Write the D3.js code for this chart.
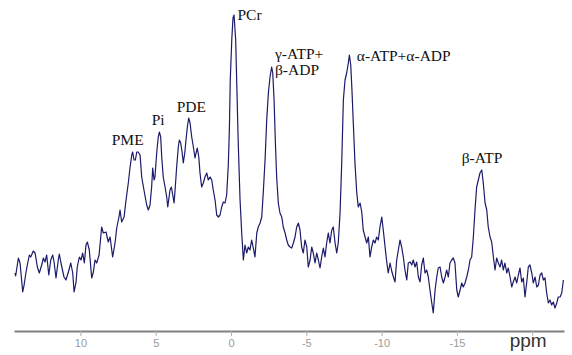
<!DOCTYPE html>
<html><head><meta charset="utf-8">
<script src="https://cdn.jsdelivr.net/npm/d3@7"></script>
<style>html,body{margin:0;padding:0;background:#fff;}svg{display:block;}</style>
</head><body>
<svg id="chart" width="572" height="355"></svg>
<script>
// chemical shift (ppm) of each spectrum sample
const ppm = [14.34,14.30,14.12,14.01,13.83,13.74,13.61,13.50,13.39,13.30,13.13,13.01,12.86,12.73,12.57,12.46,12.35,12.24,12.10,11.97,11.84,11.75,11.62,11.47,11.40,11.29,11.09,10.96,10.80,10.64,10.51,10.42,10.29,10.21,10.07,9.96,9.85,9.74,9.63,9.54,9.41,9.25,9.14,9.03,8.92,8.76,
8.59,8.48,8.30,8.15,8.03,7.86,7.70,7.59,7.44,7.37,7.26,7.10,6.97,6.82,6.71,6.59,6.53,6.44,6.35,6.26,6.16,6.04,5.93,5.78,5.60,5.49,5.38,5.27,5.20,5.11,5.05,4.93,4.83,4.76,4.67,4.60,4.50,4.38,4.27,4.20,4.14,4.05,3.96,3.87,3.78,3.70,3.61,3.50,3.43,3.34,3.25,3.17,3.07,2.99,2.90,2.81,2.72,2.61,2.50,2.39,2.32,2.24,2.14,2.06,1.95,1.84,1.73,1.61,1.51,1.39,1.28,1.18,1.06,0.95,0.84,0.73,0.62,0.51,0.40,0.29,0.18,0.11,0.05,-0.05,-0.13,-0.20,-0.31,-0.38,-0.48,-0.60,-0.71,-0.82,-0.93,-1.04,-1.15,-1.26,-1.37,-1.48,-1.59,-1.71,-1.81,-1.93,-2.04,-2.14,-2.26,-2.37,-2.48,-2.59,-2.70,-2.77,-2.86,-2.94,-3.03,-3.14,-3.25,-3.37,-3.47,-3.59,-3.70,-3.80,-3.92,-4.03,-4.14,-4.25,-4.36,-4.47,-4.58,-4.69,-4.80,-4.91,-5.03,-5.13,-5.25,-5.36,-5.46,-5.58,-5.69,-5.80,-5.91,-6.02,-6.13,-6.24,-6.35,-6.46,-6.57,-6.69,-6.79,-6.91,-7.02,-7.12,-7.24,-7.35,-7.46,-7.57,-7.68,-7.79,-7.86,-7.95,-8.03,-8.12,-8.23,-8.35,-8.45,-8.57,-8.68,-8.78,-8.90,-9.01,-9.12,-9.23,-9.34,-9.45,-9.56,-9.67,-9.78,-9.89,-10.01,-10.11,-10.23,-10.34,-10.44,-10.56,-10.67,-10.78,-10.89,-11.00,-11.11,-11.22,-11.33,-11.44,-11.55,-11.67,-11.77,-11.89,-12.00,-12.10,-12.22,-12.33,-12.44,-12.55,-12.66,-12.77,-12.88,-12.99,-13.10,-13.21,-13.33,-13.43,-13.55,-13.66,-13.76,-13.88,-13.99,-14.10,-14.21,-14.32,-14.43,-14.54,-14.65,-14.76,-14.87,-14.99,-15.09,-15.21,-15.32,-15.42,-15.54,-15.65,-15.76,-15.87,-15.98,-16.09,-16.20,-16.31,-16.42,-16.53,-16.65,-16.75,-16.87,-16.98,-17.08,-17.20,-17.31,-17.42,-17.53,-17.64,-17.75,-17.86,-17.97,-18.08,-18.19,-18.31,-18.41,-18.53,-18.64,-18.74,-18.86,-18.97,-19.08,-19.19,-19.30,-19.41,-19.52,-19.63,-19.74,-19.85,-19.97,-20.07,-20.19,-20.30,-20.41,-20.52,-20.63,-20.74,-20.85,-20.96,-21.07,-21.18,-21.29,-21.40,-21.51,-21.63,-21.73,-21.85,-21.96,-22.07];

// signal intensity (a.u.) of each sample
const signal = [58,55,73,68,39,46,59,68,76,74,80,78,64,58,66,73,69,76,56,71,76,69,53,71,77,68,54,51,59,68,58,39,49,64,74,71,78,68,86,89,81,53,59,71,68,76,
104,98,99,89,94,74,88,103,114,121,109,114,131,148,163,176,179,171,171,179,179,176,154,141,126,121,126,144,163,151,154,179,194,199,194,174,154,144,134,124,131,141,144,136,128,144,164,184,191,188,179,168,178,191,204,213,208,194,184,173,178,183,174,158,144,148,154,158,151,154,151,141,131,116,114,116,124,129,128,136,166,201,251,291,313,316,291,248,188,131,98,71,86,78,84,81,91,83,74,98,104,108,114,138,171,211,238,254,264,258,231,191,154,128,118,114,104,98,91,86,84,83,88,94,104,108,101,84,78,91,84,64,71,84,78,68,78,71,63,74,83,74,88,98,88,101,104,88,78,88,118,168,231,251,258,268,276,266,241,208,168,138,124,128,119,101,94,88,94,74,84,91,88,94,91,104,114,101,84,69,58,68,60,54,49,71,81,91,84,74,61,51,68,69,66,71,64,69,54,49,66,73,58,61,54,41,28,18,41,54,63,64,54,48,54,61,54,68,71,73,68,41,34,41,48,44,48,54,61,71,74,94,121,144,151,158,161,148,128,121,104,94,89,74,61,73,68,64,71,61,68,58,63,54,44,49,54,48,56,63,49,53,34,48,64,66,58,48,54,44,46,56,58,51,53,38,28,31,26,29,23,28,34,34,38,51];

// axis ticks (ppm) and their labels
const tickValues = [10,5,0,-5,-10,-15,-20];
const tickLabels = ["10","5","0","-5","-10","-15",""];
const axisTitle = "ppm";

// peak assignments: label lines anchored at (ppm, signal)
const peakNames = [["PME"],["Pi"],["PDE"],["PCr"],["γ-ATP+","β-ADP"],["α-ATP+α-ADP"],["β-ATP"]];
const peakPpm   = [7.92, 5.27, 3.61, -0.43, -2.92, -8.35, -15.32];
const peakLevel = [186, 206, 219, 311.5, 272, 270.5, 168];

const svg = d3.select("#chart");
const x = d3.scaleLinear().domain([14.41, -22.11]).range([14, 564]);
const y = d3.scaleLinear().domain([0, 331]).range([331, 0]);

const data = ppm.map((p, i) => ({p, s: signal[i]}));

svg.append("path")
  .datum(data)
  .attr("fill", "none")
  .attr("stroke", "#1b1b6a")
  .attr("stroke-width", 1.2)
  .attr("stroke-linejoin", "round")
  .attr("d", d3.line().x(d => x(d.p)).y(d => y(d.s)));

const axis = svg.append("g")
  .attr("transform", `translate(0,${y(0)})`)
  .call(d3.axisBottom(x).tickValues(tickValues)
        .tickFormat((d, i) => tickLabels[i]).tickSize(5).tickSizeOuter(0).tickPadding(3));
axis.select(".domain").attr("stroke", "#808080").attr("stroke-width", 2);
axis.selectAll(".tick line").attr("stroke", "#b0b0b0");
axis.selectAll(".tick text")
  .attr("fill", "#9a9a9a")
  .style("font-family", "'Liberation Sans', Arial, sans-serif")
  .style("font-size", "11px");

svg.append("text")
  .attr("x", x(-18.5)).attr("y", y(0) + 16)
  .attr("fill", "#333")
  .style("font-family", "'Liberation Sans', Arial, sans-serif")
  .style("font-size", "19px")
  .text(axisTitle);

const lab = svg.append("g")
  .style("font-family", "'Liberation Serif', 'Times New Roman', serif")
  .style("font-size", "15.5px")
  .attr("fill", "#111");
peakNames.forEach((lines, i) => {
  const t = lab.append("text").attr("x", x(peakPpm[i])).attr("y", y(peakLevel[i]));
  lines.forEach((ln, j) => {
    t.append("tspan").attr("x", x(peakPpm[i])).attr("dy", j === 0 ? 0 : 16).text(ln);
  });
});
</script>
</body></html>
